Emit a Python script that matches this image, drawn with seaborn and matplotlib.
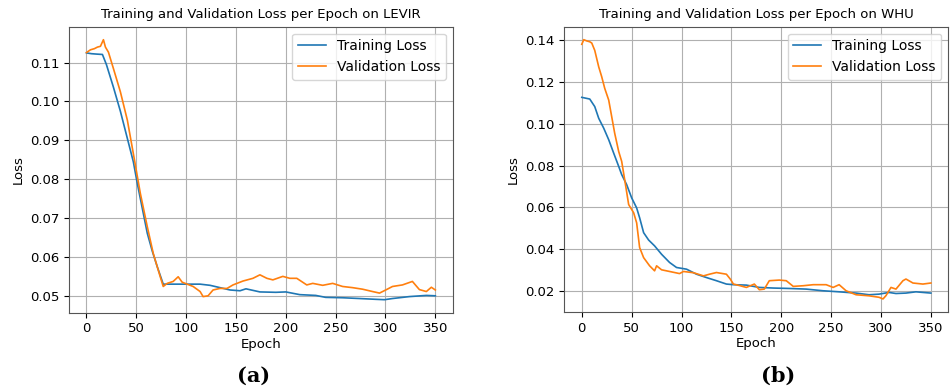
import numpy as np
import pandas as pd
import seaborn as sns
import matplotlib
matplotlib.use("Agg")
import matplotlib.pyplot as plt

# ---------------- data ----------------
levir_train_epoch = [0, 5, 10, 16, 20, 27, 34, 41, 47, 51, 56, 61, 66, 71, 77, 90, 100, 114,
                     124, 134, 144, 154, 160, 174, 190, 200, 214, 230, 240, 257, 274, 290,
                     299, 307, 324, 341, 350]
levir_train_loss = [0.1125, 0.1123, 0.1122, 0.1121, 0.1095, 0.1037, 0.0975, 0.0905, 0.0845,
                    0.0789, 0.0725, 0.0661, 0.0615, 0.0575, 0.0530, 0.0530, 0.0530, 0.0530,
                    0.0527, 0.0521, 0.0515, 0.0513, 0.0518, 0.0510, 0.0509, 0.0510, 0.0503,
                    0.0501, 0.0496, 0.0495, 0.0493, 0.0491, 0.0490, 0.0493, 0.0498, 0.0501,
                    0.0500]

levir_val_epoch = [0, 4, 8, 11, 14, 17, 19, 22, 27, 34, 41, 47, 54, 61, 67, 74, 77, 81, 87,
                   92, 96, 101, 107, 114, 117, 122, 127, 134, 141, 147, 157, 167, 174, 181,
                   187, 197, 204, 211, 221, 227, 237, 247, 257, 267, 277, 287, 294, 301, 307,
                   317, 327, 334, 341, 346, 350]
levir_val_loss = [0.1126, 0.1133, 0.1136, 0.1140, 0.1142, 0.1159, 0.1140, 0.1127, 0.1085,
                  0.1025, 0.0952, 0.0866, 0.0764, 0.0678, 0.0609, 0.0549, 0.0524, 0.0532,
                  0.0537, 0.0549, 0.0535, 0.0530, 0.0524, 0.0511, 0.0498, 0.0500, 0.0515,
                  0.0519, 0.0519, 0.0528, 0.0538, 0.0545, 0.0554, 0.0545, 0.0541, 0.0550,
                  0.0545, 0.0545, 0.0528, 0.0532, 0.0527, 0.0532, 0.0524, 0.0521, 0.0517,
                  0.0511, 0.0507, 0.0516, 0.0524, 0.0528, 0.0537, 0.0516, 0.0511, 0.0522,
                  0.0515]

whu_train_epoch = [0, 8, 13, 17, 22, 27, 32, 37, 40, 45, 50, 55, 58, 62, 67, 73, 80, 88, 95,
                   105, 115, 125, 135, 145, 152, 165, 178, 192, 208, 225, 242, 258, 275, 288,
                   298, 308, 315, 325, 335, 350]
whu_train_loss = [0.1125, 0.1117, 0.1081, 0.1025, 0.0978, 0.0923, 0.0859, 0.0796, 0.0757,
                  0.0709, 0.0646, 0.0598, 0.0551, 0.0480, 0.0445, 0.0417, 0.0377, 0.0338,
                  0.0314, 0.0306, 0.0282, 0.0266, 0.0251, 0.0235, 0.0232, 0.0230, 0.0219,
                  0.0216, 0.0214, 0.0211, 0.0203, 0.0198, 0.0192, 0.0184, 0.0187, 0.0195,
                  0.0190, 0.0192, 0.0198, 0.0192]

whu_val_epoch = [0, 2, 5, 8, 10, 13, 17, 20, 23, 27, 30, 33, 37, 40, 43, 47, 52, 55, 58, 62,
                 68, 73, 75, 80, 88, 98, 102, 112, 122, 128, 135, 145, 149, 152, 158, 165,
                 173, 178, 183, 188, 198, 205, 212, 222, 232, 245, 252, 258, 265, 275, 288,
                 298, 302, 305, 310, 315, 322, 325, 332, 342, 350]
whu_val_loss = [0.1378, 0.1400, 0.1394, 0.1390, 0.1384, 0.1349, 0.1270, 0.1223, 0.1168,
                0.1112, 0.1033, 0.0954, 0.0867, 0.0820, 0.0733, 0.0614, 0.0575, 0.0527,
                0.0409, 0.0361, 0.0322, 0.0298, 0.0322, 0.0303, 0.0295, 0.0285, 0.0295,
                0.0289, 0.0274, 0.0282, 0.0290, 0.0282, 0.0258, 0.0235, 0.0228, 0.0219,
                0.0235, 0.0208, 0.0211, 0.0251, 0.0254, 0.0251, 0.0224, 0.0227, 0.0232,
                0.0232, 0.0219, 0.0232, 0.0203, 0.0184, 0.0179, 0.0172, 0.0164, 0.0180,
                0.0219, 0.0211, 0.0251, 0.0259, 0.0240, 0.0235, 0.0240]

titles = ["Training and Validation Loss per Epoch on LEVIR",
          "Training and Validation Loss per Epoch on WHU"]
panel_labels = ["(a)", "(b)"]
series_names = ["Training Loss", "Validation Loss"]
x_ticks = [0, 50, 100, 150, 200, 250, 300, 350]

# ---------------- plotting ----------------
plt.rcParams["font.family"] = ["DejaVu Sans"]
fig = plt.figure(figsize=(9.51, 3.87), dpi=100)
ax1 = fig.add_axes([0.0726, 0.192, 0.4035, 0.739])
ax2 = fig.add_axes([0.5934, 0.194, 0.4038, 0.737])

datasets = [
    (levir_train_epoch, levir_train_loss, levir_val_epoch, levir_val_loss),
    (whu_train_epoch, whu_train_loss, whu_val_epoch, whu_val_loss),
]
colors = ["#1f77b4", "#ff7f0e"]

for ax, (te, tl, ve, vl), title in zip([ax1, ax2], datasets, titles):
    df = pd.concat([
        pd.DataFrame({"Epoch": te, "Loss": tl, "Series": series_names[0]}),
        pd.DataFrame({"Epoch": ve, "Loss": vl, "Series": series_names[1]}),
    ], ignore_index=True)
    sns.lineplot(data=df, x="Epoch", y="Loss", hue="Series", palette=colors,
                 ax=ax, linewidth=1.2, estimator=None, sort=False)
    ax.set_title(title, fontsize=9.5)
    ax.set_xlabel("Epoch", fontsize=9.5, labelpad=2)
    ax.set_ylabel("Loss", fontsize=9.5)
    ax.set_xticks(x_ticks)
    ax.tick_params(labelsize=9.5)
    ax.grid(True, color="#b0b0b0", linewidth=0.8)
    leg = ax.legend(loc="upper right", fontsize=10)
    leg.set_title(None)
    for s in ax.spines.values():
        s.set_color("#555555")

ax2.set_yticks([0.02, 0.04, 0.06, 0.08, 0.10, 0.12, 0.14])

fig.text(0.2665, 0.028, panel_labels[0], ha="center", va="center",
         fontsize=15, fontweight="bold", family="DejaVu Serif")
fig.text(0.818, 0.028, panel_labels[1], ha="center", va="center",
         fontsize=15, fontweight="bold", family="DejaVu Serif")

fig.savefig("out.png", dpi=100)
